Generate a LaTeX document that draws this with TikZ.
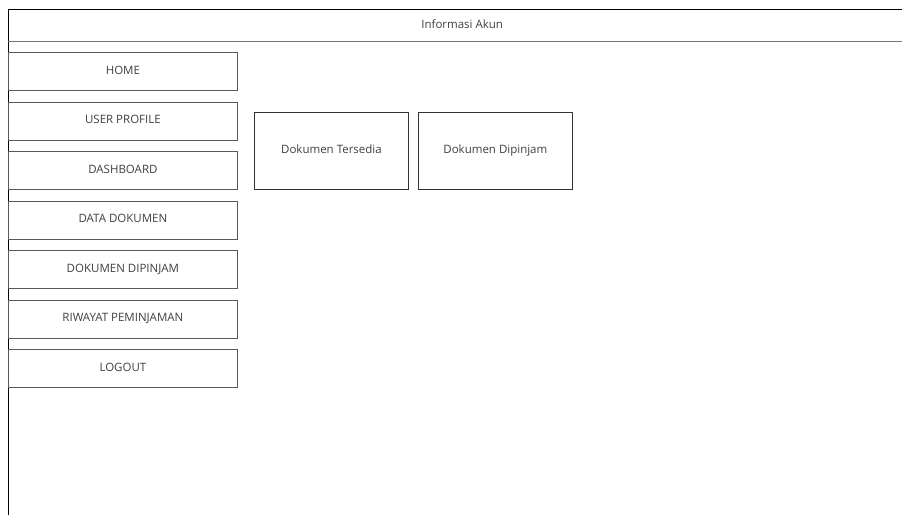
\documentclass[tikz,border=0pt]{standalone}
\usepackage{fontspec}
\setmainfont{Open Sans}
\usetikzlibrary{positioning}
\tikzset{
  framebox/.style={rectangle, draw=black, line width=1.3pt, inner sep=0pt},
  headbox/.style={rectangle, inner sep=0pt, minimum width=908pt, minimum height=32pt,
                  text height=8pt, text depth=2pt,
                  font=\fontsize{11.5}{13}\selectfont, text=black!75},
  menubox/.style={rectangle, draw=black!65, line width=0.8pt, inner sep=0pt,
                  minimum width=229pt, minimum height=38pt,
                  text height=8pt, text depth=2pt,
                  font=\fontsize{11.5}{13}\selectfont, text=black!75},
  panelbox/.style={rectangle, draw=black!80, line width=0.9pt, inner sep=0pt,
                   minimum width=154pt, minimum height=77pt,
                   text height=8pt, text depth=2pt,
                   font=\fontsize{11.5}{13}\selectfont, text=black!75},
}

\begin{document}
\begin{tikzpicture}[x=1pt,y=-1pt]
  \useasboundingbox (0,0) rectangle (902,514);
  \clip (0,0) rectangle (902,514);
  \fill[white] (0,0) rectangle (902,514);

  % page frame and header
  \node[framebox, minimum width=908pt, minimum height=540pt, anchor=north west] (page) at (8,9) {};
  \node[headbox, anchor=north west] (header) at (8,9) {Informasi Akun};
  \draw[black!55, line width=1pt] (header.south west) -- (header.south east);

  % side menu
  \node[menubox, anchor=north west] (home) at (8,52) {HOME};
  \node[menubox] (profile) [below=10.7pt of home] {USER PROFILE};
  \node[menubox] (dashboard) [below=10.7pt of profile] {DASHBOARD};
  \node[menubox] (datadok) [below=10.7pt of dashboard] {DATA DOKUMEN};
  \node[menubox] (dipinjam) [below=10.7pt of datadok] {DOKUMEN DIPINJAM};
  \node[menubox] (riwayat) [below=10.7pt of dipinjam] {RIWAYAT PEMINJAMAN};
  \node[menubox] (logout) [below=10.7pt of riwayat] {LOGOUT};

  % dashboard panels
  \node[panelbox, anchor=north west] (tersedia) at (254,112) {Dokumen Tersedia};
  \node[panelbox] (pinjam) [right=9pt of tersedia] {Dokumen Dipinjam};
\end{tikzpicture}
\end{document}
